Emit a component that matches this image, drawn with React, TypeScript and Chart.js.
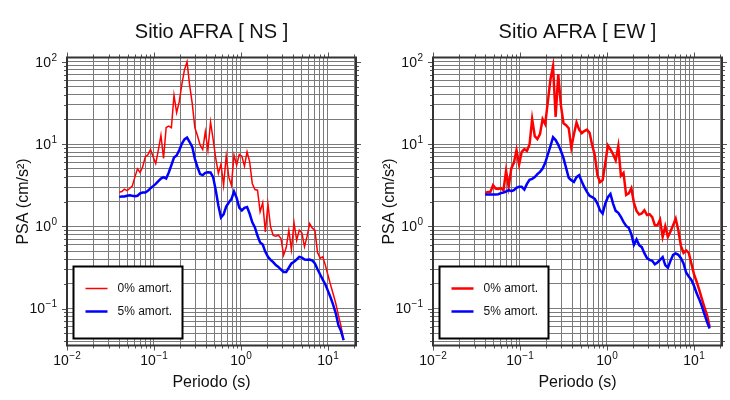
import { useEffect, useRef } from "react";
import { Chart, registerables } from "chart.js";

Chart.register(...registerables);

const FONT = '"Liberation Sans", Arial, Helvetica, sans-serif';

// Periods (s)
const periods = [
  0.0398, 0.0427, 0.0457, 0.049, 0.0525, 0.0562, 0.0603, 0.0646, 0.0692, 0.0741,
  0.0794, 0.0851, 0.0912, 0.0977, 0.1047, 0.1122, 0.1202, 0.1288, 0.138, 0.1479,
  0.1585, 0.1698, 0.182, 0.195, 0.2089, 0.2239, 0.2399, 0.257, 0.2754, 0.2951,
  0.3162, 0.3388, 0.3631, 0.389, 0.4169, 0.4467, 0.4786, 0.5129, 0.5495, 0.5888,
  0.631, 0.6761, 0.7244, 0.7762, 0.8318, 0.8913, 0.955, 1.0233, 1.0965, 1.1749,
  1.2589, 1.349, 1.4454, 1.5488, 1.6596, 1.7783, 1.9055, 2.0417, 2.1878, 2.3442,
  2.5119, 2.6915, 2.884, 3.0903, 3.3113, 3.5481, 3.8019, 4.0738, 4.3652, 4.6774,
  5.0119, 5.3703, 5.7544, 6.166, 6.6069, 7.0795, 7.5858, 8.1283, 8.7096, 9.3325,
  10.0, 10.715, 11.482, 12.303, 13.183, 14.125, 15.136,
];

// PSA (cm/s^2), NS component
const nsUndamped = [
  2.6, 2.65, 2.83, 2.72, 2.88, 3.08, 3.96, 5.0, 4.51, 5.29,
  7.0, 7.4, 8.59, 7.0, 5.8, 8.43, 12.8, 6.68, 15.9, 16.5,
  15.8, 39.3, 24.2, 32.6, 53.0, 79.9, 100, 52.0, 31.1, 15.8,
  12.6, 9.79, 8.59, 14.1, 8.43, 18.6, 11.4, 6.68, 4.39, 5.69,
  3.16, 7.13, 3.96, 3.16, 7.33, 5.54, 7.47, 7.13, 5.38, 8.05,
  6.08, 3.32, 2.8, 2.75, 1.5, 1.93, 0.857, 1.86, 0.985, 0.773,
  0.759, 0.78, 0.711, 0.446, 0.552, 0.897, 0.522, 1.1, 0.678, 0.897,
  0.833, 0.563, 0.759, 1.08, 0.949, 0.897, 0.48, 0.41, 0.425, 0.337,
  0.254, 0.194, 0.15, 0.115, 0.0823, 0.061, 0.0412,
];
const nsDamped = [
  2.28, 2.3, 2.3, 2.35, 2.39, 2.35, 2.32, 2.35, 2.51, 2.58,
  2.58, 2.7, 2.91, 3.08, 3.28, 3.54, 3.81, 3.96, 3.81, 4.51,
  5.54, 6.87, 7.26, 8.43, 10.1, 11.4, 12.0, 10.6, 9.26, 6.61,
  5.24, 4.31, 4.19, 4.47, 4.55, 4.51, 3.96, 2.75, 1.79, 1.28,
  1.4, 1.74, 1.95, 2.14, 2.65, 2.22, 1.69, 1.56, 1.68, 1.72,
  1.42, 1.12, 0.967, 0.766, 0.635, 0.601, 0.489, 0.425, 0.391, 0.366,
  0.337, 0.321, 0.298, 0.279, 0.279, 0.313, 0.353, 0.37, 0.395, 0.425,
  0.417, 0.395, 0.391, 0.395, 0.384, 0.353, 0.301, 0.259, 0.225, 0.196,
  0.164, 0.136, 0.111, 0.087, 0.0628, 0.0531, 0.0412,
];

// PSA (cm/s^2), EW component
const ewUndamped = [
  2.55, 2.62, 2.62, 3.16, 2.88, 2.85, 2.91, 2.75, 4.73, 3.02,
  5.05, 5.91, 8.43, 5.64, 8.05, 8.67, 8.28, 9.88, 20.1, 12.5,
  11.5, 13.2, 20.1, 17.5, 32.6, 61.0, 88.6, 21.4, 70.8, 29.7,
  17.9, 17.0, 15.6, 9.09, 13.2, 18.3, 15.0, 13.6, 14.4, 15.0,
  13.7, 9.7, 7.33, 4.19, 3.44, 3.64, 5.8, 9.61, 8.59, 7.54,
  6.37, 9.43, 4.11, 4.47, 2.41, 2.51, 2.91, 1.93, 1.54, 1.39,
  1.43, 1.57, 1.37, 1.4, 1.29, 1.03, 1.03, 1.2, 0.745, 1.0,
  0.745, 0.865, 1.03, 1.24, 0.897, 0.579, 0.476, 0.508, 0.476, 0.353,
  0.262, 0.213, 0.17, 0.132, 0.104, 0.083, 0.0599,
];
const ewDamped = [
  2.44, 2.44, 2.44, 2.44, 2.44, 2.46, 2.53, 2.58, 2.65, 2.75,
  2.67, 2.75, 2.94, 3.02, 3.02, 2.8, 3.28, 3.67, 3.78, 3.96,
  4.31, 4.6, 5.05, 5.91, 7.47, 9.43, 12.1, 11.2, 9.79, 8.28,
  6.74, 5.14, 3.89, 3.64, 3.47, 3.96, 4.19, 3.51, 2.99, 2.62,
  2.35, 2.26, 2.16, 1.89, 1.56, 1.43, 1.88, 2.26, 2.48, 1.89,
  1.54, 1.46, 1.3, 1.13, 1.01, 0.958, 0.802, 0.595, 0.691, 0.59,
  0.558, 0.471, 0.41, 0.391, 0.38, 0.346, 0.363, 0.391, 0.421, 0.337,
  0.313, 0.38, 0.45, 0.467, 0.45, 0.41, 0.353, 0.274, 0.245, 0.223,
  0.189, 0.154, 0.13, 0.107, 0.0854, 0.0689, 0.0572,
];

// Axis decades (labelled ticks 10^n)
const xDecades = [-2, -1, 0, 1];
const yDecades = [-2, -1, 0, 1, 2];
const xLabelDecades = [-2, -1, 0, 1];
const yLabelDecades = [-1, 0, 1, 2];
const X_MIN = 0.01;
const X_MAX = 21;
const Y_MIN = 0.0355;
const Y_MAX = 113;

const seriesLabels = ["0% amort.", "5% amort."];
const xTitle = "Periodo (s)";
const yTitle = "PSA (cm/s²)";

function buildTicks(decades: number[], min: number, max: number) {
  const out: number[] = [];
  for (const d of decades) {
    for (let m = 1; m <= 9; m++) {
      const v = m * Math.pow(10, d);
      if (v >= min * 0.9999 && v <= max * 1.0001) out.push(v);
    }
  }
  return out;
}
const xTicks = buildTicks(xDecades, X_MIN, X_MAX);
const yTicks = buildTicks(yDecades, Y_MIN, Y_MAX);

function isMajor(v: number) {
  const l = Math.log10(v);
  return Math.abs(l - Math.round(l)) < 1e-6;
}

function drawPow(ctx: CanvasRenderingContext2D, exp: number, x: number, y: number, align: "center" | "right") {
  const base = "10";
  const sup = exp < 0 ? "\u2212" + String(-exp) : String(exp);
  ctx.font = `14px ${FONT}`;
  const wb = ctx.measureText(base).width;
  ctx.font = `10px ${FONT}`;
  const ws = ctx.measureText(sup).width;
  const total = wb + 0.5 + ws;
  const x0 = align === "center" ? x - total / 2 : x - total;
  ctx.textAlign = "left";
  ctx.textBaseline = "middle";
  ctx.font = `14px ${FONT}`;
  ctx.fillText(base, x0, y);
  ctx.font = `10px ${FONT}`;
  ctx.fillText(sup, x0 + wb + 0.5, y - 5);
}

type PanelProps = {
  title: string;
  undamped: number[];
  damped: number[];
  undampedWidth: number;
  dampedWidth: number;
  left: number;
};

function Panel({ title, undamped, damped, undampedWidth, dampedWidth, left }: PanelProps) {
  const ref = useRef<HTMLCanvasElement | null>(null);

  useEffect(() => {
    if (!ref.current) return;

    const framePlugin = {
      id: "gmtFrame",
      afterDraw(chart: any) {
        const ctx: CanvasRenderingContext2D = chart.ctx;
        const { left: l, top: t, right: r, bottom: b } = chart.chartArea;
        const xs = chart.scales.x;
        const ys = chart.scales.y;
        ctx.save();

        // Legend box
        const bx = l + 6.5;
        const bw = 109;
        const bh = 72;
        const by = b - 7 - bh;
        ctx.fillStyle = "#ffffff";
        ctx.fillRect(bx, by, bw, bh);
        ctx.strokeStyle = "#000000";
        ctx.lineWidth = 2;
        ctx.strokeRect(bx, by, bw, bh);
        const dsets = chart.data.datasets;
        const rows = [by + 22, by + 45];
        ctx.font = `12px ${FONT}`;
        ctx.textAlign = "left";
        ctx.textBaseline = "middle";
        dsets.forEach((ds: any, i: number) => {
          ctx.strokeStyle = ds.borderColor;
          ctx.lineWidth = ds.borderWidth;
          ctx.beginPath();
          ctx.moveTo(bx + 12, rows[i]);
          ctx.lineTo(bx + 34, rows[i]);
          ctx.stroke();
          ctx.fillStyle = "#111111";
          ctx.fillText(ds.label, bx + 44, rows[i] + 0.5);
        });

        // Outer ticks
        ctx.strokeStyle = "#555555";
        ctx.lineWidth = 1;
        ctx.beginPath();
        for (const v of xTicks) {
          const px = Math.round(xs.getPixelForValue(v)) + 0.5;
          const len = isMajor(v) ? 5 : 3;
          ctx.moveTo(px, b);
          ctx.lineTo(px, b + len);
          ctx.moveTo(px, t);
          ctx.lineTo(px, t - len);
        }
        for (const v of yTicks) {
          const py = Math.round(ys.getPixelForValue(v)) + 0.5;
          const len = isMajor(v) ? 5 : 3;
          ctx.moveTo(l, py);
          ctx.lineTo(l - len, py);
          ctx.moveTo(r, py);
          ctx.lineTo(r + len, py);
        }
        ctx.stroke();

        // Frame
        ctx.strokeStyle = "#333333";
        ctx.lineWidth = 2;
        ctx.strokeRect(l, t, r - l, b - t);

        // Tick labels
        ctx.fillStyle = "#111111";
        for (const d of xLabelDecades) {
          const px = xs.getPixelForValue(Math.pow(10, d));
          drawPow(ctx, d, px, b + 16, "center");
        }
        for (const d of yLabelDecades) {
          const py = ys.getPixelForValue(Math.pow(10, d));
          drawPow(ctx, d, l - 10, py + 1, "right");
        }

        // Titles
        ctx.fillStyle = "#111111";
        ctx.textAlign = "center";
        ctx.textBaseline = "middle";
        ctx.font = `20px ${FONT}`;
        ctx.fillText(title, (l + r) / 2, 32);
        ctx.font = `16px ${FONT}`;
        ctx.fillText(xTitle, (l + r) / 2, b + 37);
        ctx.save();
        ctx.translate(24, (t + b) / 2);
        ctx.rotate(-Math.PI / 2);
        ctx.fillText(yTitle, 0, 0);
        ctx.restore();

        ctx.restore();
      },
    };

    const chart = new Chart(ref.current, {
      type: "line",
      data: {
        datasets: [
          {
            label: seriesLabels[0],
            data: periods.map((p, i) => ({ x: p, y: undamped[i] })),
            borderColor: "#ff0000",
            backgroundColor: "#ff0000",
            borderWidth: undampedWidth,
            pointRadius: 0,
            fill: false,
            tension: 0,
            order: 2,
          },
          {
            label: seriesLabels[1],
            data: periods.map((p, i) => ({ x: p, y: damped[i] })),
            borderColor: "#0000ff",
            backgroundColor: "#0000ff",
            borderWidth: dampedWidth,
            pointRadius: 0,
            fill: false,
            tension: 0,
            order: 1,
          },
        ],
      },
      options: {
        responsive: false,
        animation: false,
        layout: { padding: { left: 67, right: 9, top: 57.5, bottom: 54.5 } },
        plugins: {
          legend: { display: false },
          title: { display: false },
          tooltip: { enabled: false },
        },
        scales: {
          x: {
            type: "logarithmic",
            min: X_MIN,
            max: X_MAX,
            afterBuildTicks: (s: any) => {
              s.ticks = xTicks.map((v) => ({ value: v }));
            },
            afterFit: (s: any) => {
              s.height = 0;
            },
            ticks: { display: false },
            grid: { color: "#7a7a7a", lineWidth: 1, drawTicks: false },
            border: { display: false },
          },
          y: {
            type: "logarithmic",
            min: Y_MIN,
            max: Y_MAX,
            afterBuildTicks: (s: any) => {
              s.ticks = yTicks.map((v) => ({ value: v }));
            },
            afterFit: (s: any) => {
              s.width = 0;
            },
            ticks: { display: false },
            grid: { color: "#7a7a7a", lineWidth: 1, drawTicks: false },
            border: { display: false },
          },
        },
      } as any,
      plugins: [framePlugin],
    });

    return () => chart.destroy();
  }, [title, undamped, damped, undampedWidth, dampedWidth]);

  return (
    <canvas
      ref={ref}
      width={365}
      height={400}
      style={{ position: "absolute", left, top: 0, width: 365, height: 400 }}
    />
  );
}

export default function App() {
  return (
    <div style={{ position: "absolute", left: 0, top: 0, width: 730, height: 400, background: "#ffffff" }}>
      <Panel title="Sitio AFRA [ NS ]" undamped={nsUndamped} damped={nsDamped} undampedWidth={1.5} dampedWidth={2.5} left={0} />
      <Panel title="Sitio AFRA [ EW ]" undamped={ewUndamped} damped={ewDamped} undampedWidth={2.5} dampedWidth={2.5} left={366} />
    </div>
  );
}
